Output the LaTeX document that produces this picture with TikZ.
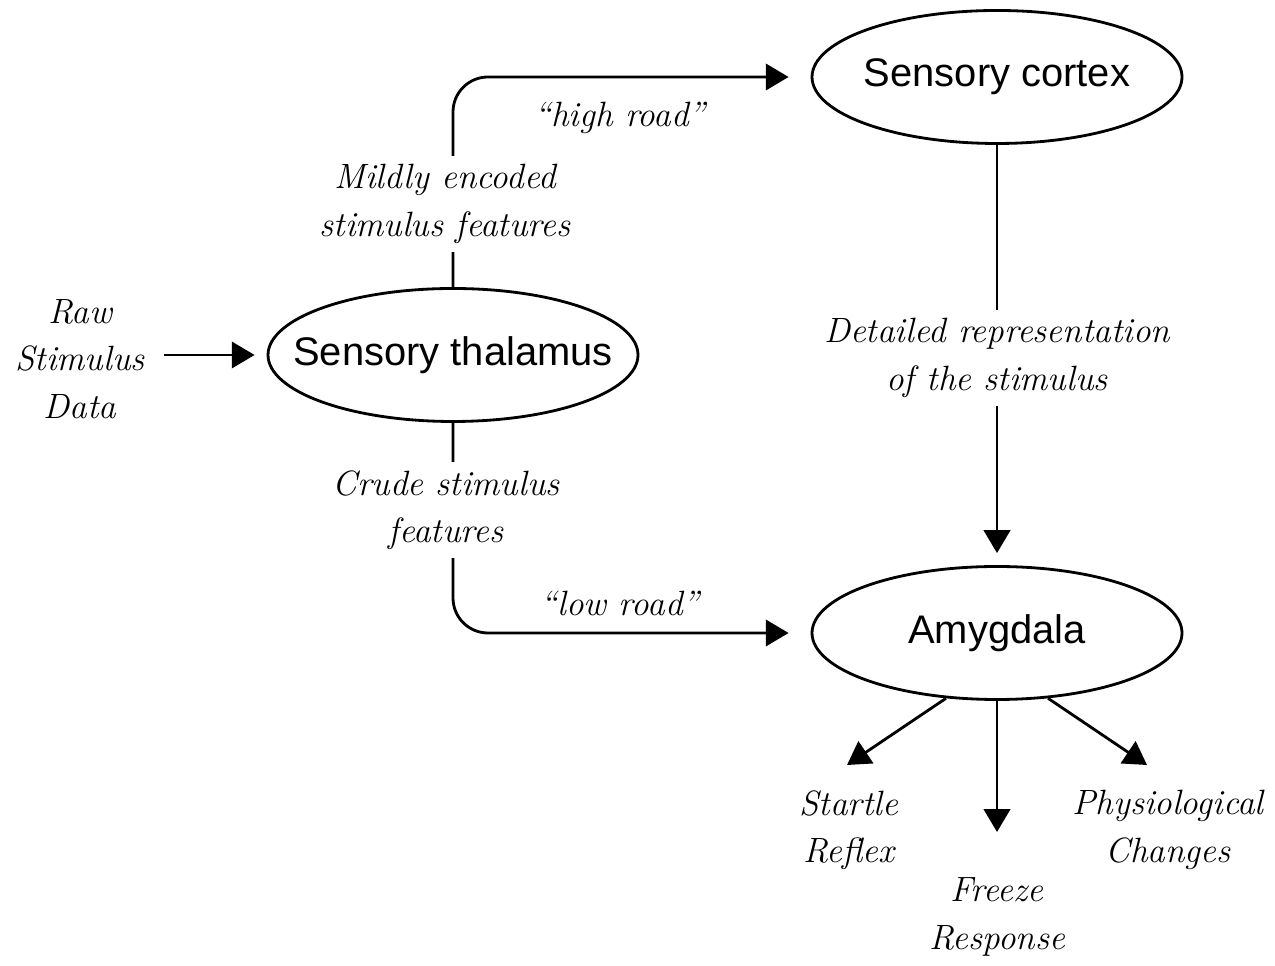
\documentclass[tikz,border=0pt]{standalone}
\usepackage{fontspec}
\newfontfamily\arialfont{Liberation Sans}
\usetikzlibrary{arrows.meta,shapes.geometric}

\begin{document}
\begin{tikzpicture}[line width=1.6pt,>={Triangle[length=13pt,width=15pt]},
  region/.style={ellipse,draw,minimum width=7.4cm,minimum height=2.66cm,
    inner xsep=-0.7cm,inner ysep=0pt,font=\arialfont\fontsize{22.7}{27}\selectfont},
  note/.style={align=center,font=\itshape\fontsize{20}{27}\selectfont},
  cover/.style={note,fill=white,inner sep=5pt}]
\useasboundingbox (0,0) rectangle (25.5,19.32);
% ---- the three stations ----
\node[region] (cortex) at (19.94,17.78) {Sensory cortex};
\node[region] (thal)   at (9.06,12.22)  {Sensory thalamus};
\node[region] (amyg)   at (19.94,6.66)  {Amygdala};
\node[note] (raw) at (1.6,12.14) {Raw\\Stimulus\\Data};
% ---- input, high road, low road, cortex route ----
\draw[->,shorten <=0.24cm,shorten >=0.24cm] (raw.east |- thal.west) -- (thal.west);
\draw[->,rounded corners=0.7cm] (thal.north) -- (thal.north |- cortex.west)
  -- ([xshift=-0.44cm]cortex.west);
\draw[->,rounded corners=0.7cm] (thal.south) -- (thal.south |- amyg.west)
  -- ([xshift=-0.44cm]amyg.west);
\draw[->,shorten >=0.24cm] (cortex.south) -- (amyg.north);
\node[cover] (mild)   at (8.9,15.24)   {Mildly encoded\\stimulus features};
\node[cover] (crude)  at (8.92,9.12)   {Crude stimulus\\features};
\node[cover] (detail) at (19.94,12.16) {Detailed representation\\of the stimulus};
\node[note] (high) at (12.4,16.96) {“high road”};
\node[note] (low)  at (12.4,7.26)  {“low road”};
% ---- responses ----
\node[note] (startle) at (16.98,2.72) {Startle\\Reflex};
\node[note] (freeze)  at (19.94,0.98) {Freeze\\Response};
\node[note] (physio)  at (23.36,2.72) {Physiological\\Changes};
\coordinate (startle tip) at (16.94,4.02);
\coordinate (freeze tip)  at (19.94,2.68);
\coordinate (physio tip)  at (22.94,4.02);
\draw[->] (amyg.-128) -- (startle tip);
\draw[->] (amyg.south) -- (freeze tip);
\draw[->] (amyg.-52) -- (physio tip);
\end{tikzpicture}
\end{document}
